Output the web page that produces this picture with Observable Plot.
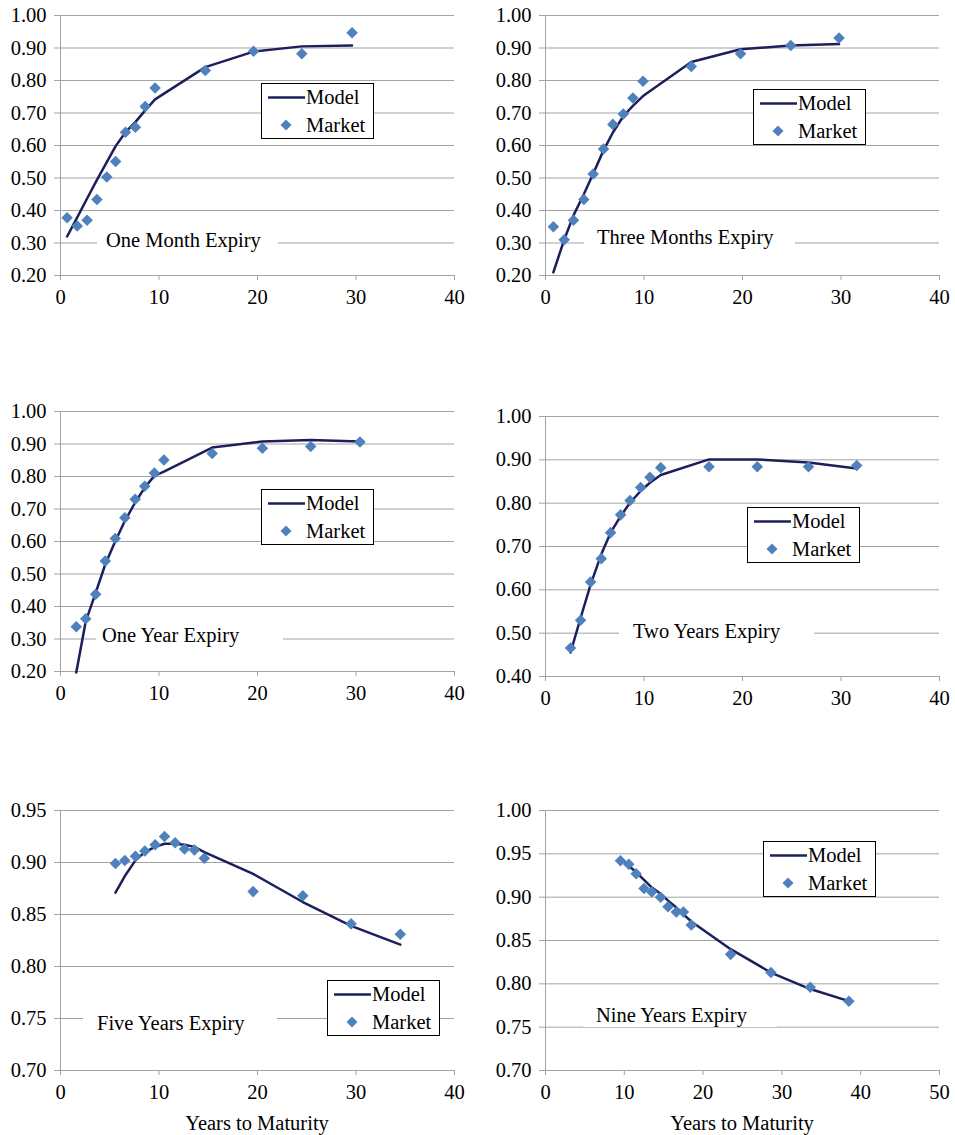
<!DOCTYPE html>
<html>
<head>
<meta charset="utf-8">
<script src="https://cdn.jsdelivr.net/npm/d3@7"></script>
<script src="https://cdn.jsdelivr.net/npm/@observablehq/plot@0.6"></script>
<style>
  body { margin: 0; background: #fff; }
  #root { position: relative; width: 955px; height: 1135px; overflow: hidden;
          font-family: "Liberation Serif", "Times New Roman", serif; color: #000; }
  .panel { position: absolute; }
  .panel svg, .panel svg text { font-family: "Liberation Serif", "Times New Roman", serif !important; font-size: 20.5px !important; }
  .note { position: absolute; background: #fff; font-size: 20.5px; line-height: 24px; height: 24px;
          white-space: nowrap; box-sizing: border-box; }
  .legend { position: absolute; width: 113px; height: 56px; box-sizing: border-box;
            border: 1.5px solid #000; background: #fff; font-size: 20.5px; }
  .legend .row { position: absolute; left: 0; height: 24px; line-height: 24px; width: 100%; }
  .legend .lab { position: absolute; left: 44px; top: 0; }
  .legend svg { position: absolute; left: 0; top: 0; }
  .xtitle { position: absolute; font-size: 20.5px; line-height: 24px; white-space: nowrap;
            transform: translate(-50%, -50%); }
</style>
</head>
<body>
<div id="root"></div>
<script>
// ---------- data ----------
const X_TICKS_40 = [0, 10, 20, 30, 40];
const X_TICKS_50 = [0, 10, 20, 30, 40, 50];
const Y_TICKS_020_100 = [0.2, 0.3, 0.4, 0.5, 0.6, 0.7, 0.8, 0.9, 1.0];
const Y_TICKS_040_100 = [0.4, 0.5, 0.6, 0.7, 0.8, 0.9, 1.0];
const Y_TICKS_070_095 = [0.70, 0.75, 0.80, 0.85, 0.90, 0.95];
const Y_TICKS_070_100 = [0.70, 0.75, 0.80, 0.85, 0.90, 0.95, 1.00];

const TITLES = ["One Month Expiry", "Three Months Expiry", "One Year Expiry",
                "Two Years Expiry", "Five Years Expiry", "Nine Years Expiry"];
const SERIES_NAMES = ["Model", "Market"];
const X_LABEL = "Years to Maturity";

// One Month Expiry
const x1M      = [0.67, 1.7, 2.7, 3.7, 4.7, 5.6, 6.6, 7.6, 8.6, 9.6, 14.7, 19.6, 24.5, 29.6];
const market1M = [0.378, 0.352, 0.370, 0.434, 0.503, 0.551, 0.641, 0.656, 0.720, 0.777, 0.831, 0.890, 0.882, 0.947];
const model1M  = [0.320, 0.379, 0.437, 0.494, 0.549, 0.598, 0.641, 0.672, 0.708, 0.742, 0.841, 0.889, 0.905, 0.908];

// Three Months Expiry
const x3M      = [0.8, 1.9, 2.84, 3.89, 4.84, 5.89, 6.84, 7.9, 8.87, 9.9, 14.8, 19.8, 24.9, 29.8];
const market3M = [0.350, 0.310, 0.370, 0.434, 0.512, 0.589, 0.665, 0.697, 0.746, 0.798, 0.843, 0.882, 0.908, 0.931];
const model3M  = [0.210, 0.310, 0.385, 0.450, 0.513, 0.585, 0.640, 0.690, 0.722, 0.752, 0.857, 0.896, 0.908, 0.912];

// One Year Expiry
const x1Y      = [1.6, 2.56, 3.57, 4.55, 5.56, 6.53, 7.58, 8.55, 9.53, 10.5, 15.4, 20.5, 25.4, 30.4];
const market1Y = [0.338, 0.362, 0.438, 0.540, 0.609, 0.673, 0.730, 0.770, 0.811, 0.851, 0.871, 0.887, 0.892, 0.906];
const model1Y  = [0.197, 0.354, 0.442, 0.530, 0.601, 0.663, 0.720, 0.766, 0.802, 0.815, 0.889, 0.908, 0.912, 0.908];

// Two Years Expiry
const x2Y      = [2.54, 3.56, 4.58, 5.66, 6.61, 7.63, 8.58, 9.66, 10.6, 11.7, 16.6, 21.5, 26.7, 31.6];
const market2Y = [0.466, 0.530, 0.618, 0.672, 0.732, 0.773, 0.806, 0.836, 0.860, 0.882, 0.884, 0.884, 0.884, 0.887];
const model2Y  = [0.455, 0.535, 0.612, 0.682, 0.732, 0.770, 0.801, 0.828, 0.847, 0.865, 0.901, 0.901, 0.894, 0.880];

// Five Years Expiry
const x5Y      = [5.58, 6.53, 7.61, 8.56, 9.61, 10.56, 11.64, 12.59, 13.6, 14.6, 19.56, 24.6, 29.5, 34.5];
const market5Y = [0.899, 0.902, 0.906, 0.911, 0.917, 0.925, 0.919, 0.913, 0.912, 0.904, 0.872, 0.868, 0.841, 0.831];
const model5Y  = [0.871, 0.887, 0.902, 0.910, 0.915, 0.918, 0.918, 0.917, 0.915, 0.910, 0.889, 0.862, 0.839, 0.821];

// Nine Years Expiry
const x9Y      = [9.51, 10.57, 11.5, 12.5, 13.5, 14.6, 15.55, 16.6, 17.5, 18.5, 23.5, 28.6, 33.6, 38.5];
const market9Y = [0.942, 0.938, 0.927, 0.910, 0.906, 0.900, 0.889, 0.883, 0.883, 0.868, 0.834, 0.813, 0.796, 0.780];
const model9Y  = [0.944, 0.936, 0.929, 0.920, 0.911, 0.904, 0.896, 0.888, 0.880, 0.872, 0.840, 0.813, 0.794, 0.780];

// ---------- assembly ----------
const panelsData = [
  {title: TITLES[0], x: x1M, market: market1M, model: model1M, xDomain: [0, 40], xTicks: X_TICKS_40, yDomain: [0.2, 1.0], yTicks: Y_TICKS_020_100, noteY: 0.30},
  {title: TITLES[1], x: x3M, market: market3M, model: model3M, xDomain: [0, 40], xTicks: X_TICKS_40, yDomain: [0.2, 1.0], yTicks: Y_TICKS_020_100, noteY: 0.30},
  {title: TITLES[2], x: x1Y, market: market1Y, model: model1Y, xDomain: [0, 40], xTicks: X_TICKS_40, yDomain: [0.2, 1.0], yTicks: Y_TICKS_020_100, noteY: 0.30},
  {title: TITLES[3], x: x2Y, market: market2Y, model: model2Y, xDomain: [0, 40], xTicks: X_TICKS_40, yDomain: [0.4, 1.0], yTicks: Y_TICKS_040_100, noteY: 0.50},
  {title: TITLES[4], x: x5Y, market: market5Y, model: model5Y, xDomain: [0, 40], xTicks: X_TICKS_40, yDomain: [0.70, 0.95], yTicks: Y_TICKS_070_095, noteY: 0.75, xLabel: true},
  {title: TITLES[5], x: x9Y, market: market9Y, model: model9Y, xDomain: [0, 50], xTicks: X_TICKS_50, yDomain: [0.70, 1.00], yTicks: Y_TICKS_070_100, noteY: 0.75, xLabel: true}
];

// layout (pixels)
const layout = [
  {left: 0,   top: 0,   width: 477, mr: 23, mb: 40, gap: [97, 278],  textX: 106, textDy: -2,  legend: [261, 83]},
  {left: 485, top: 0,   width: 470, mr: 16, mb: 40, gap: [99, 310],  textX: 112, textDy: -5,  legend: [753, 89]},
  {left: 0,   top: 396, width: 477, mr: 23, mb: 40, gap: [96, 283],  textX: 102, textDy: -3,  legend: [261, 489]},
  {left: 485, top: 401, width: 470, mr: 16, mb: 40, gap: [134, 329], textX: 148, textDy: -1,  legend: [747, 507]},
  {left: 0,   top: 795, width: 477, mr: 23, mb: 40, gap: [83, 277],  textX: 97,  textDy: 6,   legend: [327, 980]},
  {left: 485, top: 795, width: 470, mr: 16, mb: 40, gap: [98, 292],  textX: 111, textDy: -11, legend: [763, 841]}
];

const GRID = "#a3a3a3";
const MODEL_COLOR = "#1c1f5c";
const MARKET_COLOR = "#4f81bd";
const FONT = "Liberation Serif, Times New Roman, serif";
const DIAMOND = d3.symbolDiamond2 || {
  draw(ctx, size) { const r = Math.sqrt(size) * 0.62625;
    ctx.moveTo(0, -r); ctx.lineTo(r, 0); ctx.lineTo(0, r); ctx.lineTo(-r, 0); ctx.closePath(); }
};

const root = document.getElementById("root");
const fmt = d3.format(".2f");

panelsData.forEach((d, i) => {
  const L = layout[i];
  const rows = d.x.map((x, j) => ({x, market: d.market[j], model: d.model[j]}));
  const plot = Plot.plot({
    width: L.width,
    height: 15 + 260 + L.mb,
    marginTop: 15, marginLeft: 60, marginRight: L.mr, marginBottom: L.mb,
    style: {fontFamily: FONT, fontSize: "20.5px", color: "#000", background: "transparent", overflow: "visible"},
    x: {domain: d.xDomain},
    y: {domain: d.yDomain},
    marks: [
      Plot.gridY(d.yTicks, {stroke: GRID, strokeOpacity: 1, strokeWidth: 1}),
      Plot.ruleX([0], {stroke: GRID, strokeWidth: 1}),
      Plot.axisY(d.yTicks, {tickSize: 6, tickPadding: 8, tickFormat: fmt, stroke: GRID, fill: "#000", label: null}),
      Plot.axisX(d.xTicks, {tickSize: 5, tickPadding: 9, stroke: GRID, fill: "#000", label: null}),
      Plot.line(rows, {x: "x", y: "model", stroke: MODEL_COLOR, strokeWidth: 2.5}),
      Plot.dot(rows, {x: "x", y: "market", symbol: DIAMOND, r: 5.2, fill: MARKET_COLOR, stroke: "none"})
    ]
  });
  const wrap = document.createElement("div");
  wrap.className = "panel";
  wrap.style.left = L.left + "px";
  wrap.style.top = L.top + "px";
  wrap.appendChild(plot);
  root.appendChild(wrap);

  // in-chart title sitting on a gridline
  const yPix = plot.scale("y").apply(d.noteY);
  const note = document.createElement("div");
  note.className = "note";
  note.textContent = d.title;
  note.style.left = (L.left + L.gap[0]) + "px";
  note.style.width = (L.gap[1] - L.gap[0]) + "px";
  note.style.paddingLeft = (L.textX - L.gap[0]) + "px";
  note.style.top = (L.top + yPix - 13 + L.textDy) + "px";
  root.appendChild(note);

  // legend
  const lg = document.createElement("div");
  lg.className = "legend";
  lg.style.left = L.legend[0] + "px";
  lg.style.top = L.legend[1] + "px";
  lg.innerHTML =
    `<div class="row" style="top:1px"><svg width="44" height="24"><line x1="6" x2="43" y1="12.5" y2="12.5" stroke="${MODEL_COLOR}" stroke-width="2.5"/></svg><span class="lab">${SERIES_NAMES[0]}</span></div>` +
    `<div class="row" style="top:29px"><svg width="44" height="24"><polygon points="24,6.5 29.5,12 24,17.5 18.5,12" fill="${MARKET_COLOR}"/></svg><span class="lab">${SERIES_NAMES[1]}</span></div>`;
  root.appendChild(lg);

  if (d.xLabel) {
    const xt = document.createElement("div");
    xt.className = "xtitle";
    xt.textContent = X_LABEL;
    const cx = L.left + (60 + (L.width - L.mr)) / 2;
    xt.style.left = cx + "px";
    xt.style.top = "1123px";
    root.appendChild(xt);
  }
});
</script>
</body>
</html>
